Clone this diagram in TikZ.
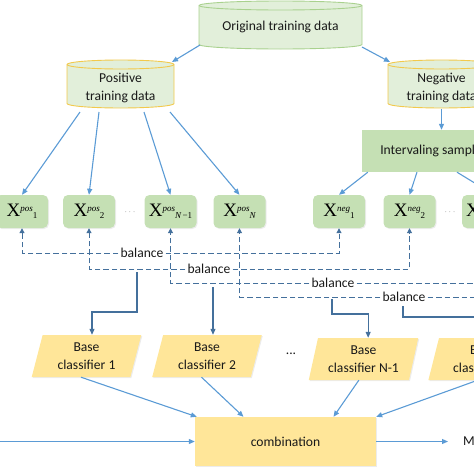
\documentclass[tikz,border=0pt]{standalone}
\usepackage{fontspec}
\setmainfont{Carlito}
\newfontfamily\xfont{Liberation Serif}
\usetikzlibrary{positioning,arrows.meta,shapes.geometric,calc,shadows}

\definecolor{cylfill}{HTML}{E2EFDA}
\definecolor{origline}{HTML}{A9D18E}
\definecolor{posline}{HTML}{F2C94C}
\definecolor{setfill}{HTML}{C5E0B4}
\definecolor{clsfill}{HTML}{FFE699}
\definecolor{flowblue}{HTML}{5B9BD5}
\definecolor{balblue}{HTML}{44709C}

% data store drawn as a cylinder: centre, half width, half height, border colour
\newcommand{\drawcyl}[4]{%
  \draw[draw=#4, fill=cylfill, line width=.9pt]
    ($(#1)+(-#2,-#3+4.5)$) -- ($(#1)+(-#2,#3-4.5)$)
    arc[start angle=180, end angle=360, x radius=#2pt, y radius=4.5pt]
    -- ($(#1)+(#2,-#3+4.5)$)
    arc[start angle=0, end angle=180, x radius=#2pt, y radius=4.5pt] -- cycle;
  \draw[draw=#4, line width=.9pt] ($(#1)+(-#2,-#3+4.5)$)
    arc[start angle=180, end angle=360, x radius=#2pt, y radius=4.5pt];
}
% X^{sup}_{sub} label of a subset
\newcommand{\xlab}[2]{{\xfont\fontsize{19}{19}\selectfont X\raisebox{5pt}{\fontsize{9}{9}\selectfont\itshape #1}\raisebox{-2.5pt}{\fontsize{9}{9}\selectfont #2}}}

\begin{document}
\begin{tikzpicture}[x=1pt, y=-1pt,
        txt/.style={font=\fontsize{13.6}{18}\selectfont, text=black!90, align=center, inner sep=2pt},
        setbox/.style={fill=setfill, rounded corners=5pt, minimum width=52pt, minimum height=33pt,
                       inner sep=0pt, drop shadow={opacity=.15, shadow xshift=1pt, shadow yshift=-1pt}},
        sampbox/.style={txt, fill=setfill, minimum width=148pt, minimum height=42pt},
        clsbox/.style={txt, trapezium, trapezium left angle=75, trapezium right angle=105,
                       trapezium stretches=true, fill=clsfill, minimum width=110pt, minimum height=42pt,
                       inner sep=0pt, drop shadow={opacity=.15, shadow xshift=1pt, shadow yshift=-1pt}},
        combbox/.style={txt, fill=clsfill, minimum width=181pt, minimum height=49pt,
                        drop shadow={opacity=.15, shadow xshift=1pt, shadow yshift=-1pt}},
        dots/.style={font=\fontsize{9}{9}\selectfont, text=black!50},
        arr/.style={flowblue, line width=1.1pt, -{Triangle[length=6pt, width=5pt]}},
        bal/.style={balblue, line width=1pt, dash pattern=on 5.5pt off 3pt, -{Triangle[length=5pt, width=5pt]}},
        feed/.style={balblue, line width=1.1pt, -{Triangle[length=6pt, width=5pt]}}
    ]
        \useasboundingbox (0,0) rectangle (474,474);
        \clip (0,0) rectangle (474,474);

        % training data stores
        \drawcyl{280.5,25}{81.5}{24}{origline}
        \drawcyl{120.5,84}{53.5}{24}{posline}
        \drawcyl{441.5,84}{53.5}{24}{posline}
        \node[txt] (orig) at (280.5,27) {Original training data};
        \node[txt] (pos)  at (120.5,88) {Positive\\training data};
        \node[txt] (neg)  at (441.5,88) {Negative\\training data};

        \node[sampbox] (samp) at (436,151) {Intervaling sampling};

        % subsets
        \node[setbox] (xp1)  at (22,211.5)    {\xlab{pos}{1}};
        \node[setbox] (xp2)  at (89,211.5)    {\xlab{pos}{2}};
        \node[dots]   (pdots) at (130,212)    {$\cdots$};
        \node[setbox] (xpN1) at (170.5,211.5) {\xlab{pos}{\itshape N\upshape\,−1}};
        \node[setbox] (xpN)  at (239.5,211.5) {\xlab{pos}{\itshape N}};
        \node[setbox] (xn1)  at (339,211.5)   {\xlab{neg}{1}};
        \node[setbox] (xn2)  at (409.5,211.5) {\xlab{neg}{2}};
        \node[dots]   (ndots) at (450,212)    {$\cdots$};
        \node[setbox] (xnN1) at (488,211.5)   {\xlab{neg}{\itshape N\upshape\,−1}};
        \coordinate (xnN) at (560,228);

        % balance labels
        \node[txt] (bal1) at (142,253) {balance};
        \node[txt] (bal2) at (209,269) {balance};
        \node[txt] (bal3) at (333,283) {balance};
        \node[txt] (bal4) at (404,297) {balance};

        % base classifiers
        \node[clsbox] (bc1)  at (86.5,356)  {Base\\classifier 1};
        \node[clsbox] (bc2)  at (207,356)   {Base\\classifier 2};
        \node[txt]    (cdots) at (291,354)  {...};
        \node[clsbox] (bcN1) at (363.5,359) {Base\\classifier N-1};
        \node[clsbox] (bcN)  at (483,359)   {Base\\classifier N};

        \node[combbox] (comb) at (285.5,441.5) {combination};
        \coordinate (src) at (-10,441.5);
        \node[txt, anchor=west] (res) at (461,441.5) {M};

        % splitting
        \draw[arr] ($(orig)+(-80.5,18)$) -- ($(pos)+(51.5,-26)$);
        \draw[arr] ($(orig)+(81.5,20)$) -- ($(neg)+(-51.5,-26)$);
        \draw[arr] ($(pos)+(-40.5,24)$) -- (xp1.north);
        \draw[arr] ($(pos)+(-21.5,24)$) -- (xp2.north);
        \draw[arr] ($(pos)+(23.5,24)$) -- (xpN1.north);
        \draw[arr] ($(pos)+(49.5,24)$) -- (xpN.north);
        \draw[arr] ($(neg)+(0,21)$) -- (samp.north -| neg);
        \draw[arr] ([xshift=6pt]samp.south west) -- (xn1.north);
        \draw[arr] ([xshift=-19pt]samp.south) -- (xn2.north);
        \draw[arr] ([xshift=21pt]samp.south) -- ([xshift=6pt]xnN1.north);

        % balancing pairs
        \draw[bal] (bal1.west) -| (xp1.south);
        \draw[bal] (bal1.east) -| (xn1.south);
        \draw[bal] (bal2.west) -| (xp2.south);
        \draw[bal] (bal2.east) -| (xn2.south);
        \draw[bal] (bal3.west) -| (xpN1.south);
        \draw[bal] (bal3.east) -| (xnN1.south);
        \draw[bal] (bal4.west) -| (xpN.south);
        \draw[bal] (bal4.east) -| (xnN);

        % training the base classifiers
        \coordinate (f1) at (137,272);
        \coordinate (f2) at (213,287);
        \coordinate (f3) at (332,299);
        \coordinate (f4) at (403,306);
        \draw[feed] (f1) -- ++(0,40) -| (bc1.top side);
        \draw[feed] (f2) -- (f2 |- bc2.top side);
        \draw[feed] (f3) -- ++(0,15) -| (bcN1.top side);
        \draw[feed] (f4) -- ++(0,11) -| (bcN.top side);

        % combination
        \draw[arr] (bc1.bottom side)  -- ([xshift=2pt]comb.north west);
        \draw[arr] (bc2.bottom side)  -- ([xshift=-42pt]comb.north);
        \draw[arr] (bcN1.bottom side) -- ([xshift=48pt]comb.north);
        \draw[arr] (bcN.bottom side)  -- (comb.north east);
        \draw[arr] (src) -- (comb.west);
        \draw[arr, shorten >=13pt] (comb.east) -- (res.west);
    \end{tikzpicture}
\end{document}
